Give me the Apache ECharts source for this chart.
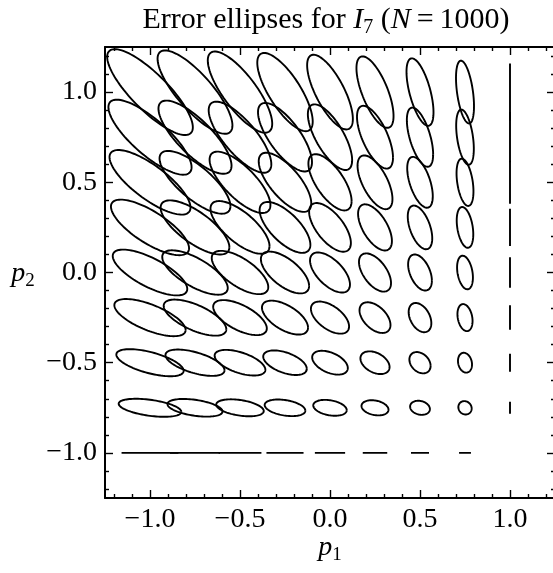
<!DOCTYPE html>
<html><head><meta charset="utf-8">
<script src="https://cdn.jsdelivr.net/npm/echarts@6/dist/echarts.min.js"></script>
<style>html,body{margin:0;padding:0;background:#fff}#c{width:553px;height:573px}</style>
</head><body><div id="c"></div>
<script>
// grid centres
const p1Values = [-1, -0.75, -0.5, -0.25, 0, 0.25, 0.5, 0.75, 1];
const p2Values = [-1, -0.75, -0.5, -0.25, 0, 0.25, 0.5, 0.75, 1];
// half-extent of each ellipse along p1 (rows: p2 = -1 ... 1, cols: p1 = -1 ... 1)
const sxRows = [
  [0.158,0.139,0.119,0.103,0.084,0.068,0.050,0.033,0],
  [0.174,0.153,0.132,0.113,0.093,0.075,0.055,0.037,0],
  [0.187,0.164,0.141,0.121,0.099,0.081,0.059,0.039,0],
  [0.198,0.174,0.149,0.128,0.106,0.086,0.063,0.042,0],
  [0.207,0.182,0.157,0.134,0.111,0.089,0.066,0.044,0],
  [0.217,0.191,0.164,0.141,0.116,0.094,0.068,0.046,0],
  [0.225,0.197,0.169,0.146,0.120,0.097,0.071,0.047,0],
  [0.231,0.203,0.174,0.150,0.123,0.100,0.073,0.049,0],
  [0.238,0.208,0.179,0.154,0.127,0.103,0.075,0.050,0]
];
// half-extent along p2
const syRows = [
  [0,0,0,0,0,0,0,0,0],
  [0.050,0.049,0.047,0.046,0.044,0.042,0.039,0.037,0.033],
  [0.075,0.073,0.071,0.068,0.066,0.063,0.059,0.055,0.050],
  [0.103,0.100,0.097,0.094,0.089,0.085,0.081,0.075,0.068],
  [0.127,0.123,0.120,0.116,0.111,0.106,0.100,0.093,0.084],
  [0.154,0.150,0.146,0.141,0.135,0.128,0.121,0.113,0.103],
  [0.179,0.174,0.170,0.164,0.156,0.149,0.141,0.131,0.119],
  [0.208,0.203,0.197,0.190,0.182,0.174,0.164,0.153,0.139],
  [0.238,0.231,0.225,0.217,0.207,0.198,0.187,0.174,0.158]
];
// correlation of each ellipse
const rhoRows = [
  [0,0,0,0,0,0,0,0,0],
  [-0.45,-0.42,-0.38,-0.34,-0.30,-0.25,-0.18,-0.10,0],
  [-0.60,-0.58,-0.55,-0.50,-0.45,-0.38,-0.30,-0.18,0],
  [-0.67,-0.65,-0.62,-0.59,-0.55,-0.48,-0.38,-0.25,0],
  [-0.72,-0.70,-0.67,-0.64,-0.60,-0.55,-0.45,-0.30,0],
  [-0.75,-0.73,-0.71,-0.68,-0.64,-0.59,-0.50,-0.34,0],
  [-0.78,-0.76,-0.74,-0.71,-0.67,-0.62,-0.55,-0.38,0],
  [-0.80,-0.78,-0.76,-0.73,-0.70,-0.65,-0.58,-0.42,0],
  [-0.82,-0.80,-0.78,-0.75,-0.72,-0.67,-0.60,-0.45,0]
];
const majorTicks = [-1, -0.5, 0, 0.5, 1];
const tickLabels = ['\u22121.0', '\u22120.5', '0.0', '0.5', '1.0'];
const minorTicks = [-1.2,-1.1,-0.9,-0.8,-0.7,-0.6,-0.4,-0.3,-0.2,-0.1,0.1,0.2,0.3,0.4,0.6,0.7,0.8,0.9,1.1,1.2];

const FONT = 'Liberation Serif';
const data = [];
p2Values.forEach((p2, j) => p1Values.forEach((p1, i) => {
  data.push([p1, p2, sxRows[j][i], syRows[j][i], rhoRows[j][i]]);
}));

function fmt(v) {
  const k = majorTicks.findIndex(t => Math.abs(t - v) < 1e-9);
  return k >= 0 ? tickLabels[k] : '';
}
const RANGE = [-1.25, 1.25];
function mkAxis(pos, ticks, len, main) {
  return {
    type: 'value', min: RANGE[0], max: RANGE[1], position: pos,
    axisLine: { show: main, onZero: false, lineStyle: { color: '#000', width: 2 } },
    axisTick: { show: true, inside: true, length: len, customValues: ticks, lineStyle: { color: '#000', width: 1.4 } },
    axisLabel: main && (pos === 'bottom' || pos === 'left') ? {
      show: true, customValues: majorTicks, formatter: fmt, color: '#000',
      fontFamily: FONT, fontSize: 28, margin: pos === 'bottom' ? 8 : 8
    } : { show: false },
    splitLine: { show: false }, minorTick: { show: false }
  };
}
const richLab = {
  it: { fontFamily: FONT, fontStyle: 'italic', fontSize: 28, fill: '#000' },
  sub: { fontFamily: FONT, fontSize: 19, padding: [15, 0, 0, 0], fill: '#000' }
};

const chart = echarts.init(document.getElementById('c'), null, { renderer: 'canvas' });
chart.setOption({
  animation: false,
  backgroundColor: '#fff',
  grid: { left: 105, top: 47, width: 450, height: 451, containLabel: false, outerBoundsMode: 'none' },
  xAxis: [mkAxis('bottom', majorTicks, 8, true), mkAxis('bottom', minorTicks, 4, false),
          mkAxis('top', majorTicks, 8, true), mkAxis('top', minorTicks, 4, false)],
  yAxis: [mkAxis('left', majorTicks, 8, true), mkAxis('left', minorTicks, 4, false),
          mkAxis('right', majorTicks, 8, true), mkAxis('right', minorTicks, 4, false)],
  graphic: [
    { type: 'text', x: 326, y: 20, style: { text: 'Error ellipses for {it|I}{sub|7} ({it|N}\u2009=\u20091000)', align: 'center', verticalAlign: 'middle',
      font: '30px "Liberation Serif"', fill: '#000',
      rich: { it: { fontFamily: FONT, fontStyle: 'italic', fontSize: 30, fill: '#000' }, sub: { fontFamily: FONT, fontSize: 20, padding: [15, 0, 0, 0], fill: '#000' } } } },
    { type: 'text', x: 330, y: 548, style: { text: '{it|p}{sub|1}', align: 'center', verticalAlign: 'middle', rich: richLab } },
    { type: 'text', x: 23, y: 274, style: { text: '{it|p}{sub|2}', align: 'center', verticalAlign: 'middle', rich: richLab } }
  ],
  series: [{
    type: 'custom', xAxisIndex: 0, yAxisIndex: 0, clip: true,
    encode: { x: 0, y: 1 },
    data: data,
    renderItem: function (params, api) {
      const cx = api.value(0), cy = api.value(1), sx = api.value(2), sy = api.value(3), r = api.value(4);
      const s = Math.sqrt(Math.max(0, 1 - r * r));
      const pts = [];
      const N = 96;
      for (let k = 0; k <= N; k++) {
        const t = 2 * Math.PI * k / N;
        pts.push(api.coord([cx + sx * Math.cos(t), cy + sy * (r * Math.cos(t) + s * Math.sin(t))]));
      }
      return { type: 'polyline', shape: { points: pts }, style: { stroke: '#000', lineWidth: 1.9, fill: null } };
    }
  }]
});
</script></body></html>
